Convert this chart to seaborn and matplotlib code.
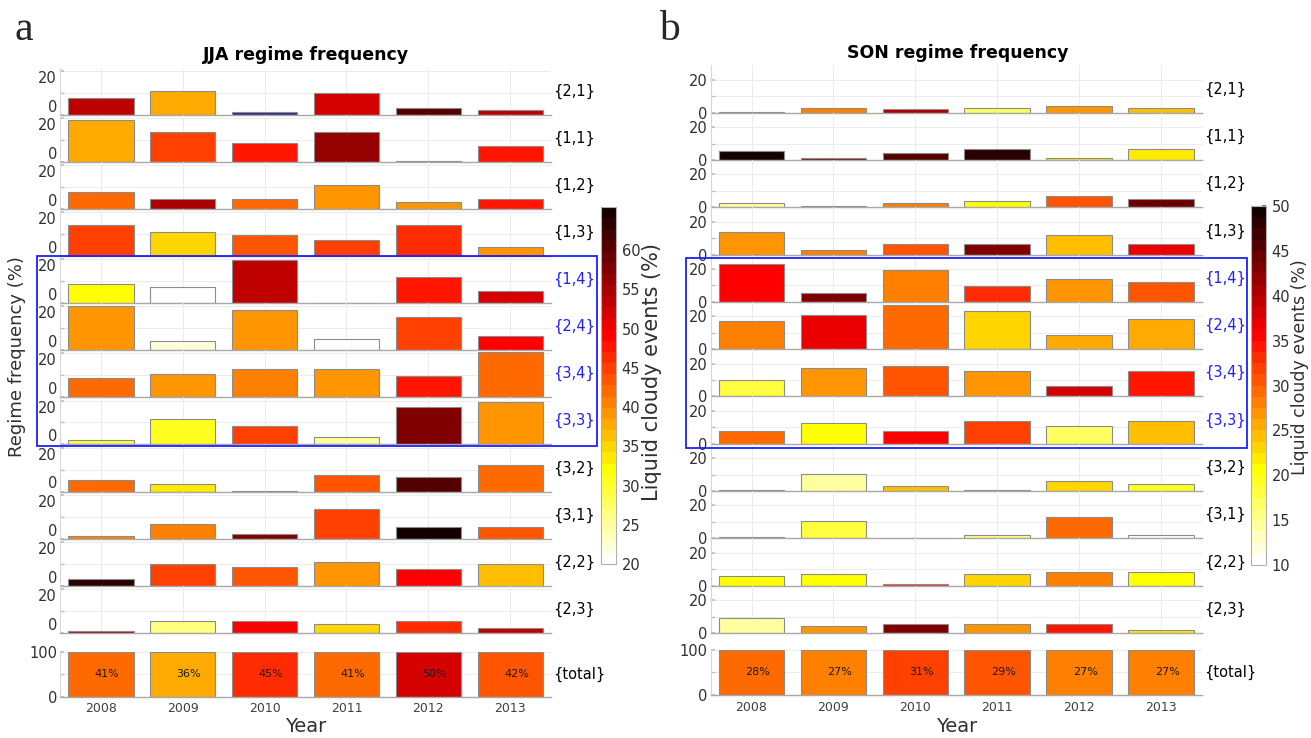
import numpy as np
import pandas as pd
import matplotlib
matplotlib.use("Agg")
import matplotlib.pyplot as plt
import matplotlib.colorbar as mcolorbar
from matplotlib.colors import ListedColormap, Normalize
from matplotlib.patches import Rectangle
import seaborn as sns

# ---------------- data ----------------
years = ['2008', '2009', '2010', '2011', '2012', '2013']
regimes = ['{2,1}', '{1,1}', '{1,2}', '{1,3}', '{1,4}', '{2,4}',
           '{3,4}', '{3,3}', '{3,2}', '{3,1}', '{2,2}', '{2,3}']
highlight = ['{1,4}', '{2,4}', '{3,4}', '{3,3}']
nan = np.nan

# JJA regime frequency (%)
jja_21 = [7.5, 10.6, 1.1, 9.8, 3.2, 2.2]
jja_11 = [19.2, 13.8, 8.5, 13.8, 0.2, 7.4]
jja_12 = [7.5, 4.3, 4.3, 10.8, 3.2, 4.3]
jja_13 = [14.0, 10.8, 9.7, 7.5, 14.0, 4.3]
jja_14 = [8.6, 7.5, 19.5, 0.1, 11.7, 5.3]
jja_24 = [20.3, 4.1, 18.3, 5.3, 15.2, 6.3]
jja_34 = [8.8, 10.8, 12.8, 12.8, 9.7, 20.5]
jja_33 = [2.0, 11.7, 8.6, 3.3, 17.3, 19.4]
jja_32 = [5.3, 3.3, 0.1, 7.5, 6.4, 11.9]
jja_31 = [1.1, 6.6, 2.2, 13.3, 5.5, 5.5]
jja_22 = [3.1, 9.7, 8.6, 10.6, 7.5, 9.7]
jja_23 = [0.9, 5.3, 5.3, 4.2, 5.3, 2.0]
jja_total = [100, 100, 100, 100, 100, 100]

# JJA liquid cloudy events (%)  -> bar colour
jja_liq_21 = [51.7, 36.3, nan, 50.1, 57.8, 50.8]
jja_liq_11 = [36.3, 43.5, 46.1, 54.2, 39.7, 46.1]
jja_liq_12 = [40.3, 53.0, 40.8, 38.5, 38.5, 46.1]
jja_liq_13 = [43.5, 34.6, 42.0, 43.0, 44.9, 38.1]
jja_liq_14 = [31.3, 20.7, 51.7, 39.7, 46.1, 50.1]
jja_liq_24 = [38.1, 22.6, 38.1, 20.7, 43.0, 46.6]
jja_liq_34 = [40.2, 38.1, 39.5, 38.1, 46.1, 40.3]
jja_liq_33 = [29.2, 29.7, 43.5, 24.5, 55.6, 37.8]
jja_liq_32 = [40.3, 32.5, 39.7, 42.0, 57.3, 40.3]
jja_liq_31 = [39.7, 39.7, 55.1, 43.5, 61.9, 42.2]
jja_liq_22 = [61.1, 43.5, 42.0, 38.1, 47.0, 35.1]
jja_liq_23 = [54.5, 25.8, 47.0, 33.4, 45.2, 51.7]
jja_liq_total = [41, 36, 45, 41, 50, 42]

# SON regime frequency (%)
son_21 = [0.2, 3.1, 2.0, 3.1, 4.1, 3.1]
son_11 = [5.5, 1.2, 4.3, 6.5, 1.2, 6.5]
son_12 = [2.7, 1.0, 2.7, 3.9, 7.1, 5.1]
son_13 = [13.9, 2.9, 6.3, 6.3, 11.8, 6.3]
son_14 = [22.9, 5.5, 19.6, 9.8, 14.1, 11.8]
son_24 = [17.3, 20.6, 27.1, 22.9, 8.8, 18.6]
son_34 = [9.8, 17.3, 18.4, 15.3, 6.5, 15.3]
son_33 = [7.6, 12.9, 7.6, 14.1, 10.8, 14.1]
son_32 = [0.6, 10.4, 2.9, 0.6, 5.9, 4.1]
son_31 = [1.0, 10.4, 0.1, 1.8, 12.7, 1.8]
son_22 = [6.1, 7.3, 0.8, 7.3, 8.4, 8.4]
son_23 = [9.4, 4.1, 5.3, 5.3, 5.3, 2.0]
son_total = [100, 100, 100, 100, 100, 100]

# SON liquid cloudy events (%)
son_liq_21 = [29.3, 26.7, 39.1, 16.6, 26.0, 23.7]
son_liq_11 = [47.0, 40.6, 43.2, 46.2, 21.5, 21.1]
son_liq_12 = [14.3, 30.8, 26.7, 20.0, 29.3, 41.7]
son_liq_13 = [25.6, 27.5, 29.3, 41.0, 23.0, 35.3]
son_liq_14 = [33.8, 41.0, 26.7, 31.6, 25.6, 29.0]
son_liq_24 = [26.7, 35.7, 27.8, 21.8, 25.2, 24.8]
son_liq_34 = [17.7, 26.0, 29.3, 25.6, 36.5, 33.1]
son_liq_33 = [27.8, 20.3, 33.5, 30.1, 17.0, 23.7]
son_liq_32 = [41.7, 14.0, 23.3, nan, 21.8, 18.8]
son_liq_31 = [18.1, 17.3, 29.3, 15.3, 27.8, 10.6]
son_liq_22 = [19.6, 20.3, 31.2, 22.2, 26.5, 20.0]
son_liq_23 = [14.0, 26.3, 41.0, 26.0, 33.1, 20.9]
son_liq_total = [28, 27, 31, 29, 27, 27]

jja_cbar_ticks = [20, 25, 30, 35, 40, 45, 50, 55, 60]
son_cbar_ticks = [10, 15, 20, 25, 30, 35, 40, 45, 50]

jja_freq = dict(zip(regimes, [jja_21, jja_11, jja_12, jja_13, jja_14, jja_24,
                              jja_34, jja_33, jja_32, jja_31, jja_22, jja_23]))
jja_liq = dict(zip(regimes, [jja_liq_21, jja_liq_11, jja_liq_12, jja_liq_13, jja_liq_14,
                             jja_liq_24, jja_liq_34, jja_liq_33, jja_liq_32, jja_liq_31,
                             jja_liq_22, jja_liq_23]))
son_freq = dict(zip(regimes, [son_21, son_11, son_12, son_13, son_14, son_24,
                              son_34, son_33, son_32, son_31, son_22, son_23]))
son_liq = dict(zip(regimes, [son_liq_21, son_liq_11, son_liq_12, son_liq_13, son_liq_14,
                             son_liq_24, son_liq_34, son_liq_33, son_liq_32, son_liq_31,
                             son_liq_22, son_liq_23]))

# ---------------- style ----------------
sns.set_theme(style="white")
plt.rcParams['font.family'] = ['DejaVu Sans']

W, H = 1311, 738


def fx(p):
    return p / W


def fy(p):
    return 1 - p / H


def matlab_hot_r(m=32):
    n = int(3 * m / 8)
    r = np.r_[np.arange(1, n + 1) / n, np.ones(m - n)]
    g = np.r_[np.zeros(n), np.arange(1, n + 1) / n, np.ones(m - 2 * n)]
    b = np.r_[np.zeros(2 * n), np.arange(1, m - 2 * n + 1) / (m - 2 * n)]
    return ListedColormap(np.c_[r, g, b][::-1])


cmap = matlab_hot_r(32)
NAN_COLOR = '#2e2e8c'
BLUE = '#1f1fff'
GRID = '#ececec'

fig = plt.figure(figsize=(W / 100, H / 100), dpi=100)


def style_axes(ax, ytop, major, minor, show_x=False, shift=False):
    ax.set_xlim(-0.5, 5.5)
    ax.set_ylim(0, ytop)
    ax.set_yticks(major, labels=[str(m) for m in major])
    ax.set_yticks(minor, minor=True)
    ax.set_axisbelow(True)
    ax.grid(True, which='both', axis='y', color=GRID, lw=0.7)
    ax.grid(True, which='major', axis='x', color=GRID, lw=0.7)
    for s in ['top', 'right']:
        ax.spines[s].set_visible(False)
    ax.spines['left'].set_color('#d6d6d6')
    ax.spines['left'].set_linewidth(0.8)
    ax.spines['bottom'].set_color('#a8a8a8')
    ax.spines['bottom'].set_linewidth(1.0)
    ax.tick_params(axis='y', which='both', direction='in', length=3, color='#c0c0c0',
                   labelsize=10.5, labelcolor='#303030', pad=2, left=True)
    ax.tick_params(axis='x', length=0, labelsize=9, labelcolor='#404040', pad=4)
    if not show_x:
        ax.set_xticklabels([])
    ax.set_xlabel('')
    ax.set_ylabel('')
    ax.patch.set_alpha(0)
    if shift:
        ticks = ax.yaxis.get_major_ticks()
        ticks[0].label1.set_va('bottom')
        ticks[-1].label1.set_va('top')


def draw_panel(freq, liq, tot, tot_liq, x0, x1, zero0, step, ytop,
               tot_top, tot_bot, vmin, vmax, shift):
    norm = Normalize(vmin, vmax)

    def col(v):
        return NAN_COLOR if np.isnan(v) else cmap(norm(v))

    for i, reg in enumerate(regimes):
        zb = zero0 + step * i
        ax = fig.add_axes([fx(x0), fy(zb), (x1 - x0) / W, step / H])
        df = pd.DataFrame({'Year': years, 'Frequency': freq[reg]})
        pal = {y: col(v) for y, v in zip(years, liq[reg])}
        sns.barplot(data=df, x='Year', y='Frequency', hue='Year', palette=pal,
                    legend=False, ax=ax, width=0.8, saturation=1,
                    edgecolor='#8c8c8c', linewidth=0.8)
        style_axes(ax, ytop, [0, 20], [10], shift=shift)
        ax.text(1.004, 0.5, reg, transform=ax.transAxes, ha='left', va='center',
                fontsize=10.5, color=BLUE if reg in highlight else 'black')

    ax = fig.add_axes([fx(x0), fy(tot_bot), (x1 - x0) / W, (tot_bot - tot_top) / H])
    df = pd.DataFrame({'Year': years, 'Frequency': tot})
    pal = {y: col(v) for y, v in zip(years, tot_liq)}
    sns.barplot(data=df, x='Year', y='Frequency', hue='Year', palette=pal,
                legend=False, ax=ax, width=0.8, saturation=1,
                edgecolor='#8c8c8c', linewidth=0.8)
    style_axes(ax, 100, [0, 100], [50], show_x=True)
    for i, v in enumerate(tot_liq):
        ax.text(i + 0.075, 50, f'{v}%', ha='center', va='center', fontsize=8,
                color='#1a1a1a')
    ax.text(1.004, 0.5, '{total}', transform=ax.transAxes, ha='left', va='center',
            fontsize=10.5, color='black')
    return ax


# left panel (JJA): bar colour scale
draw_panel(jja_freq, jja_liq, jja_total, jja_liq_total,
           59.9, 551.2, 114.7, 47.1, 21.5, 651.7, 696.7, 20, 62.5, True)
# right panel (SON)
draw_panel(son_freq, son_liq, son_total, son_liq_total,
           710.6, 1201.9, 112.7, 47.3, 28.7, 649.5, 695.0, 10, 47.5, False)

# highlight boxes
fig.patches.append(Rectangle((fx(37), fy(446)), (597 - 37) / W, (446 - 256) / H,
                             transform=fig.transFigure, fill=False, edgecolor=BLUE, lw=1.3))
fig.patches.append(Rectangle((fx(686), fy(448)), (1247 - 686) / W, (448 - 258) / H,
                             transform=fig.transFigure, fill=False, edgecolor=BLUE, lw=1.3))

# colorbars
for (cx, ctop, cbot, vmin, vmax, ticks, lx, ly, lsize) in [
        (601, 207, 564, 20, 65.5, jja_cbar_ticks, 652, 372, 15),
        (1251, 206, 565, 10, 50, son_cbar_ticks, 1300, 367, 12.5)]:
    cax = fig.add_axes([fx(cx), fy(cbot), 15 / W, (cbot - ctop) / H])
    cb = mcolorbar.ColorbarBase(cax, cmap=cmap, norm=Normalize(vmin, vmax),
                                orientation='vertical')
    cb.set_ticks(ticks)
    cb.outline.set_edgecolor('#b0b0b0')
    cb.outline.set_linewidth(0.8)
    cax.tick_params(direction='in', length=3, color='#555555', labelsize=10.5,
                    labelcolor='#303030', pad=4)
    fig.text(fx(lx), fy(ly), 'Liquid cloudy events (%)', rotation=90,
             ha='center', va='center', fontsize=lsize, color='#303030')

# titles & labels
fig.text(fx(305.5), fy(55), 'JJA regime frequency', ha='center', va='center',
         fontsize=12.5, fontweight='bold', color='black')
fig.text(fx(958), fy(53), 'SON regime frequency', ha='center', va='center',
         fontsize=12.5, fontweight='bold', color='black')
fig.text(fx(305.5), fy(727), 'Year', ha='center', va='center', fontsize=14,
         color='#303030')
fig.text(fx(957), fy(727), 'Year', ha='center', va='center', fontsize=14,
         color='#303030')
fig.text(fx(17), fy(357), 'Regime frequency (%)', rotation=90, ha='center',
         va='center', fontsize=13, color='#303030')
fig.text(fx(14), fy(40), 'a', fontsize=30, family='Liberation Serif', va='baseline')
fig.text(fx(659), fy(40), 'b', fontsize=30, family='Liberation Serif', va='baseline')

fig.savefig('out.png', dpi=100)
